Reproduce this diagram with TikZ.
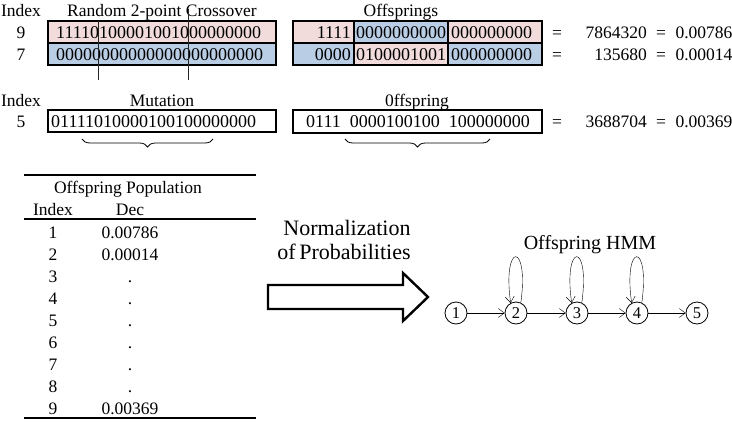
\documentclass[tikz,border=0pt]{standalone}
\usepackage{fontspec}
\setmainfont{Liberation Serif}
\usetikzlibrary{arrows.meta,decorations.pathreplacing}
\definecolor{pinkbar}{RGB}{242,220,219}
\definecolor{bluebar}{RGB}{185,205,229}
\tikzset{
  txt/.style={inner sep=0pt, anchor=base, font=\fontsize{17.5}{20}\selectfont},
  bits/.style={txt, font=\fontsize{18}{20}\selectfont},
  big/.style={txt, font=\fontsize{22}{24}\selectfont},
  frame/.style={line width=2.2pt},
  divider/.style={line width=1.3pt},
  cut/.style={line width=0.9pt, black!85},
  rule/.style={line width=1.7pt},
  bracket/.style={decorate, decoration={brace, mirror, amplitude=8pt}, line width=0.8pt},
  state/.style={circle, draw, line width=0.8pt, minimum size=22pt, inner sep=0pt, font=\fontsize{16.5}{18}\selectfont},
}

\begin{document}
\begin{tikzpicture}[x=1pt, y=-1pt, >={Straight Barb[length=6pt,width=9pt]}]
    \useasboundingbox (0,0) rectangle (732,421);

    % crossover
    \fill[pinkbar] (48,21) rectangle (276,43);
    \fill[bluebar] (48,43) rectangle (276,65);
    \draw[frame] (48,21) rectangle (276,65);
    \draw[frame] (48,43) -- (276,43);

    \node[txt] (i1) at (21,16) {Index};
    \node[txt] (cx) at (162,16) {Random 2-point Crossover};
    \node[txt] (r9) at (21,38) {9};
    \node[txt] (r7) at (21,60) {7};
    \node[bits, anchor=base west] (p9) at (56,38) {11110100001001000000000};
    \node[bits, anchor=base west] (p7) at (56,60) {00000000000000000000000};

    \draw[cut] (98,21) -- (98,80);
    \draw[cut] (188,9) -- (188,80);

    % offsprings
    \fill[pinkbar] (293,21) rectangle (354,43);
    \fill[bluebar] (354,21) rectangle (448,43);
    \fill[pinkbar] (448,21) rectangle (542,43);
    \fill[bluebar] (293,43) rectangle (354,65);
    \fill[pinkbar] (354,43) rectangle (448,65);
    \fill[bluebar] (448,43) rectangle (542,65);
    \draw[frame] (293,21) rectangle (542,65);
    \draw[frame] (293,43) -- (542,43);
    \draw[divider] (354,21) -- (354,65);
    \draw[divider] (448,21) -- (448,65);

    \node[txt] (os) at (401,16) {Offsprings};
    \node[bits, anchor=base east] (a1) at (351,38) {1111};
    \node[bits] (a2) at (401,38) {0000000000};
    \node[bits, anchor=base west] (a3) at (451,38) {000000000};
    \node[bits, anchor=base east] (b1) at (351,60) {0000};
    \node[bits] (b2) at (401,60) {0100001001};
    \node[bits, anchor=base west] (b3) at (451,60) {000000000};

    \node[txt] (e1) at (557,38) {=};
    \node[txt, anchor=base east] (d1) at (647,38) {7864320};
    \node[txt] (f1) at (661,38) {=};
    \node[txt] (n1) at (704,38) {0.00786};
    \node[txt] (e2) at (557,60) {=};
    \node[txt, anchor=base east] (d2) at (647,60) {135680};
    \node[txt] (f2) at (661,60) {=};
    \node[txt] (n2) at (704,60) {0.00014};

    % mutation
    \node[txt] (i2) at (21,106) {Index};
    \node[txt] (r5) at (21,127) {5};
    \node[txt] (mt) at (162,106) {Mutation};
    \draw[frame] (48,110) rectangle (276,132);
    \node[bits, anchor=base west] (m5) at (51,127) {01111010000100100000000};
    \draw[bracket] (82,139) -- (213,139);

    \node[txt] (of) at (417,106) {0ffspring};
    \draw[frame] (293,110) rectangle (542,133);
    \node[bits] (c5) at (418,127) {0111\ \ 0000100100\ \ 100000000};
    \draw[bracket] (345,139) -- (490,139);

    \node[txt] (e3) at (557,127) {=};
    \node[txt, anchor=base east] (d3) at (647,127) {3688704};
    \node[txt] (f3) at (661,127) {=};
    \node[txt] (n3) at (704,127) {0.00369};

    % population table
    \draw[rule] (24,175) -- (256,175);
    \draw[line width=1.4pt] (24,219) -- (256,219);
    \draw[rule] (24,418) -- (256,418);
    \node[txt] (tp) at (128,193) {Offspring Population};
    \node[txt] (ti) at (53,215) {Index};
    \node[txt] (td) at (130,215) {Dec};
    \node[txt] (k1) at (53,238) {1};  \node[txt] (v1) at (130,238) {0.00786};
    \node[txt] (k2) at (53,260) {2};  \node[txt] (v2) at (130,260) {0.00014};
    \node[txt] (k3) at (53,282) {3};  \node[txt] (v3) at (130,282) {.};
    \node[txt] (k4) at (53,304) {4};  \node[txt] (v4) at (130,304) {.};
    \node[txt] (k5) at (53,326) {5};  \node[txt] (v5) at (130,326) {.};
    \node[txt] (k6) at (53,348) {6};  \node[txt] (v6) at (130,348) {.};
    \node[txt] (k7) at (53,370) {7};  \node[txt] (v7) at (130,370) {.};
    \node[txt] (k8) at (53,392) {8};  \node[txt] (v8) at (130,392) {.};
    \node[txt] (k9) at (53,414) {9};  \node[txt] (v9) at (130,414) {0.00369};

    % normalization
    \node[big] (nm) at (347,235) {Normalization};
    \node[big] (pb) at (344,259) {of\,Probabilities};
    \draw[line width=2.4pt, line join=miter] (268,285) -- (403,285) -- (403,273) -- (428,297)
        -- (403,321) -- (403,309) -- (268,309) -- cycle;

    % HMM
    \node[txt, font=\fontsize{20}{22}\selectfont] (hm) at (590,249) {Offspring HMM};
    \node[state] (s1) at (456,313) {1};
    \node[state] (s2) at (516,313) {2};
    \node[state] (s3) at (577,313) {3};
    \node[state] (s4) at (637,313) {4};
    \node[state] (s5) at (697,313) {5};

    \draw [->] (s1) -- (s2);
    \draw [->] (s2) -- (s3);
    \draw [->] (s3) -- (s4);
    \draw [->] (s4) -- (s5);
    \draw [->] (s2.65) .. controls +(-82:62) and +(-98:62) .. (s2.118);
    \draw [->] (s3.65) .. controls +(-82:62) and +(-98:62) .. (s3.118);
    \draw [->] (s4.65) .. controls +(-82:62) and +(-98:62) .. (s4.118);

  \end{tikzpicture}
\end{document}
